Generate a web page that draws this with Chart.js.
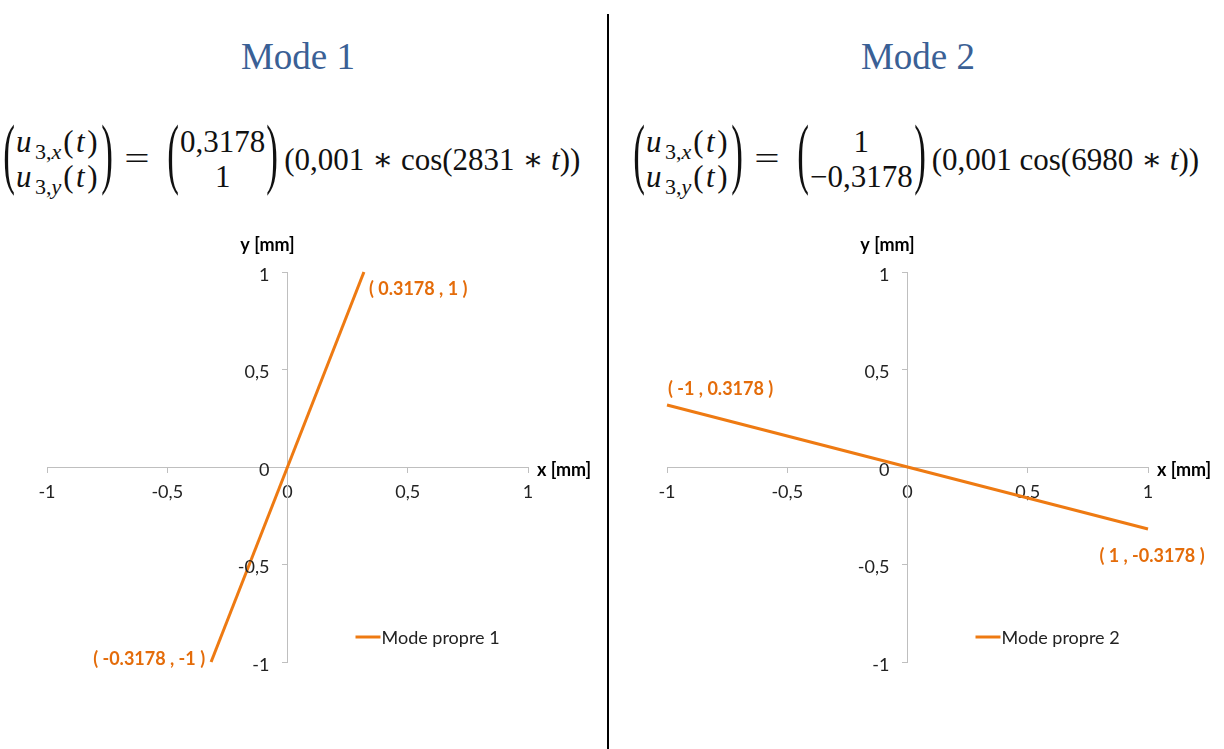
<!DOCTYPE html>
<html>
<head>
<meta charset="utf-8">
<script src="https://cdn.jsdelivr.net/npm/chart.js@4.4.1/dist/chart.umd.min.js"></script>
<style>
  html, body { margin: 0; padding: 0; background: #fff; }
  body { width: 1224px; height: 749px; position: relative; overflow: hidden; }
  .title { position: absolute; top: 35px; width: 300px; text-align: center;
           font-family: "Liberation Serif", serif; font-size: 37px; color: #3A6095; }
  .divider { position: absolute; left: 607px; top: 14px; width: 2px; height: 735px; background: #000; }
  .eq { position: absolute; top: 124px; height: 70px; display: flex; align-items: center;
        font-family: "Liberation Serif", "DejaVu Serif", serif; font-size: 31px; color: #111; white-space: nowrap; }
  .paren { font-size: 78px; line-height: 70px; height: 70px; transform: translateY(-6px) scaleX(0.45);
           display: inline-block; margin: 0 -6px; }
  .stack { display: flex; flex-direction: column; align-items: center; line-height: 35px; }
  .stack.left { align-items: flex-start; letter-spacing: 2.5px; }
  .eqsign { display: inline-block; width: 24px; text-align: center; transform: scaleX(1.45); margin: 0 17px 0 11px; }
  .it { font-style: italic; }
  sub { font-size: 22px; vertical-align: -7px; line-height: 0; letter-spacing: 0; margin: 0 2px 0 1px; }
  canvas { position: absolute; top: 200px; }
</style>
</head>
<body>
<div class="title" style="left:148px">Mode 1</div>
<div class="title" style="left:768px">Mode 2</div>
<div class="divider"></div>

<div class="eq" style="left:2px">
  <span class="paren">(</span>
  <span class="stack left">
    <span><span class="it">u</span><sub>3,<span class="it">x</span></sub>(<span class="it">t</span>)</span>
    <span><span class="it">u</span><sub>3,<span class="it">y</span></sub>(<span class="it">t</span>)</span>
  </span>
  <span class="paren">)</span>
  <span class="eqsign">=</span>
  <span class="paren">(</span>
  <span class="stack"><span>0,3178</span><span>1</span></span>
  <span class="paren">)</span>
  <span style="margin-left:5px">(0,001 ∗ cos(2831 ∗ <span class="it">t</span>))</span>
</div>

<div class="eq" style="left:632px">
  <span class="paren">(</span>
  <span class="stack left">
    <span><span class="it">u</span><sub>3,<span class="it">x</span></sub>(<span class="it">t</span>)</span>
    <span><span class="it">u</span><sub>3,<span class="it">y</span></sub>(<span class="it">t</span>)</span>
  </span>
  <span class="paren">)</span>
  <span class="eqsign">=</span>
  <span class="paren">(</span>
  <span class="stack"><span>1</span><span>−0,3178</span></span>
  <span class="paren">)</span>
  <span style="margin-left:5px">(0,001 cos(6980 ∗ <span class="it">t</span>))</span>
</div>

<canvas id="c1" width="608" height="549" style="left:0px"></canvas>
<canvas id="c2" width="614" height="549" style="left:610px"></canvas>

<script>
// Mode shapes: displacement endpoints in mm
const mode1X = [-0.3178, 0.3178];
const mode1Y = [-1, 1];
const mode2X = [-1, 1];
const mode2Y = [0.3178, -0.3178];
const seriesNames = ['Mode propre 1', 'Mode propre 2'];
const tickValues = [-1, -0.5, 0, 0.5, 1];
const axisTitles = { x: 'x [mm]', y: 'y [mm]' };

const LINE_COLOR = '#EE7A12';
const LABEL_COLOR = '#E46C0A';
const AXIS_COLOR = '#BFBFBF';
const TICK_COLOR = '#222';
const TEXT_FONT = 'Lato, "Open Sans", sans-serif';
const FONT_SIZE = 18;

const fmtTick = v => String(v).replace('.', ',');

// Draws y tick labels, point annotations, axis titles and the legend entry
const decorations = {
  id: 'decorations',
  afterDatasetsDraw(chart, args, opts) {
    const ctx = chart.ctx;
    const xs = chart.scales.x, ys = chart.scales.y;
    const x0 = xs.getPixelForValue(0), y0 = ys.getPixelForValue(0);
    ctx.save();
    ctx.textBaseline = 'middle';

    // y tick labels, set back from the centred axis
    ctx.font = FONT_SIZE + 'px ' + TEXT_FONT;
    ctx.fillStyle = TICK_COLOR;
    ctx.textAlign = 'right';
    ys.ticks.forEach(t => ctx.fillText(fmtTick(t.value), x0 - 18, ys.getPixelForValue(t.value) + 3));

    // point labels
    ctx.font = 'bold ' + FONT_SIZE + 'px ' + TEXT_FONT;
    ctx.fillStyle = LABEL_COLOR;
    const ds = chart.data.datasets[0];
    ds.data.forEach((p, i) => {
      const a = opts.anchors[i];
      const px = xs.getPixelForValue(p.x), py = ys.getPixelForValue(p.y);
      ctx.textAlign = a.align;
      ctx.fillText('( ' + p.x + ' , ' + p.y + ' )', px + a.dx, py + a.dy);
    });

    // axis titles
    ctx.fillStyle = '#000';
    ctx.textAlign = 'center';
    ctx.fillText(axisTitles.y, x0 - 20, chart.chartArea.top - 27);
    ctx.textAlign = 'left';
    ctx.fillText(axisTitles.x, chart.chartArea.right + 9, y0 + 3);

    // legend
    const ly = chart.chartArea.bottom - 25;
    ctx.strokeStyle = LINE_COLOR;
    ctx.lineWidth = 3;
    ctx.beginPath();
    ctx.moveTo(x0 + 68, ly);
    ctx.lineTo(x0 + 93, ly);
    ctx.stroke();
    ctx.fillStyle = TICK_COLOR;
    ctx.font = FONT_SIZE + 'px ' + TEXT_FONT;
    ctx.fillText(ds.label, x0 + 94, ly + 1);
    ctx.restore();
  }
};

function axis(pos, showLabels) {
  return {
    type: 'linear', min: -1, max: 1,
    position: pos,
    afterBuildTicks: s => { s.ticks = tickValues.map(v => ({ value: v })); },
    grid: { drawOnChartArea: false, drawTicks: true, tickLength: 5, color: AXIS_COLOR, lineWidth: 1 },
    border: { color: AXIS_COLOR, width: 1 },
    ticks: { display: showLabels, callback: v => fmtTick(v), color: TICK_COLOR,
             font: { family: TEXT_FONT, size: FONT_SIZE }, padding: 9, autoSkip: false, maxRotation: 0 }
  };
}

function makeChart(id, xs, ysVals, name, padding, anchors) {
  return new Chart(document.getElementById(id), {
    type: 'scatter',
    data: {
      datasets: [{
        label: name,
        data: xs.map((x, i) => ({ x, y: ysVals[i] })),
        showLine: true,
        borderColor: LINE_COLOR,
        borderWidth: 3,
        pointRadius: 0,
        clip: false
      }]
    },
    options: {
      responsive: false,
      devicePixelRatio: 1,
      animation: false,
      layout: { padding },
      plugins: { legend: { display: false }, tooltip: { enabled: false }, decorations: { anchors } },
      scales: { x: axis({ y: 0 }, true), y: axis({ x: 0 }, false) }
    },
    plugins: [decorations]
  });
}

makeChart('c1', mode1X, mode1Y, seriesNames[0],
  { left: 47, right: 80, top: 72, bottom: 87 },
  [{ align: 'right', dx: -6, dy: -3 }, { align: 'left', dx: 5, dy: 17 }]);

makeChart('c2', mode2X, mode2Y, seriesNames[1],
  { left: 57, right: 76, top: 72, bottom: 87 },
  [{ align: 'left', dx: 1, dy: -16 }, { align: 'center', dx: 4, dy: 27 }]);
</script>
</body>
</html>
